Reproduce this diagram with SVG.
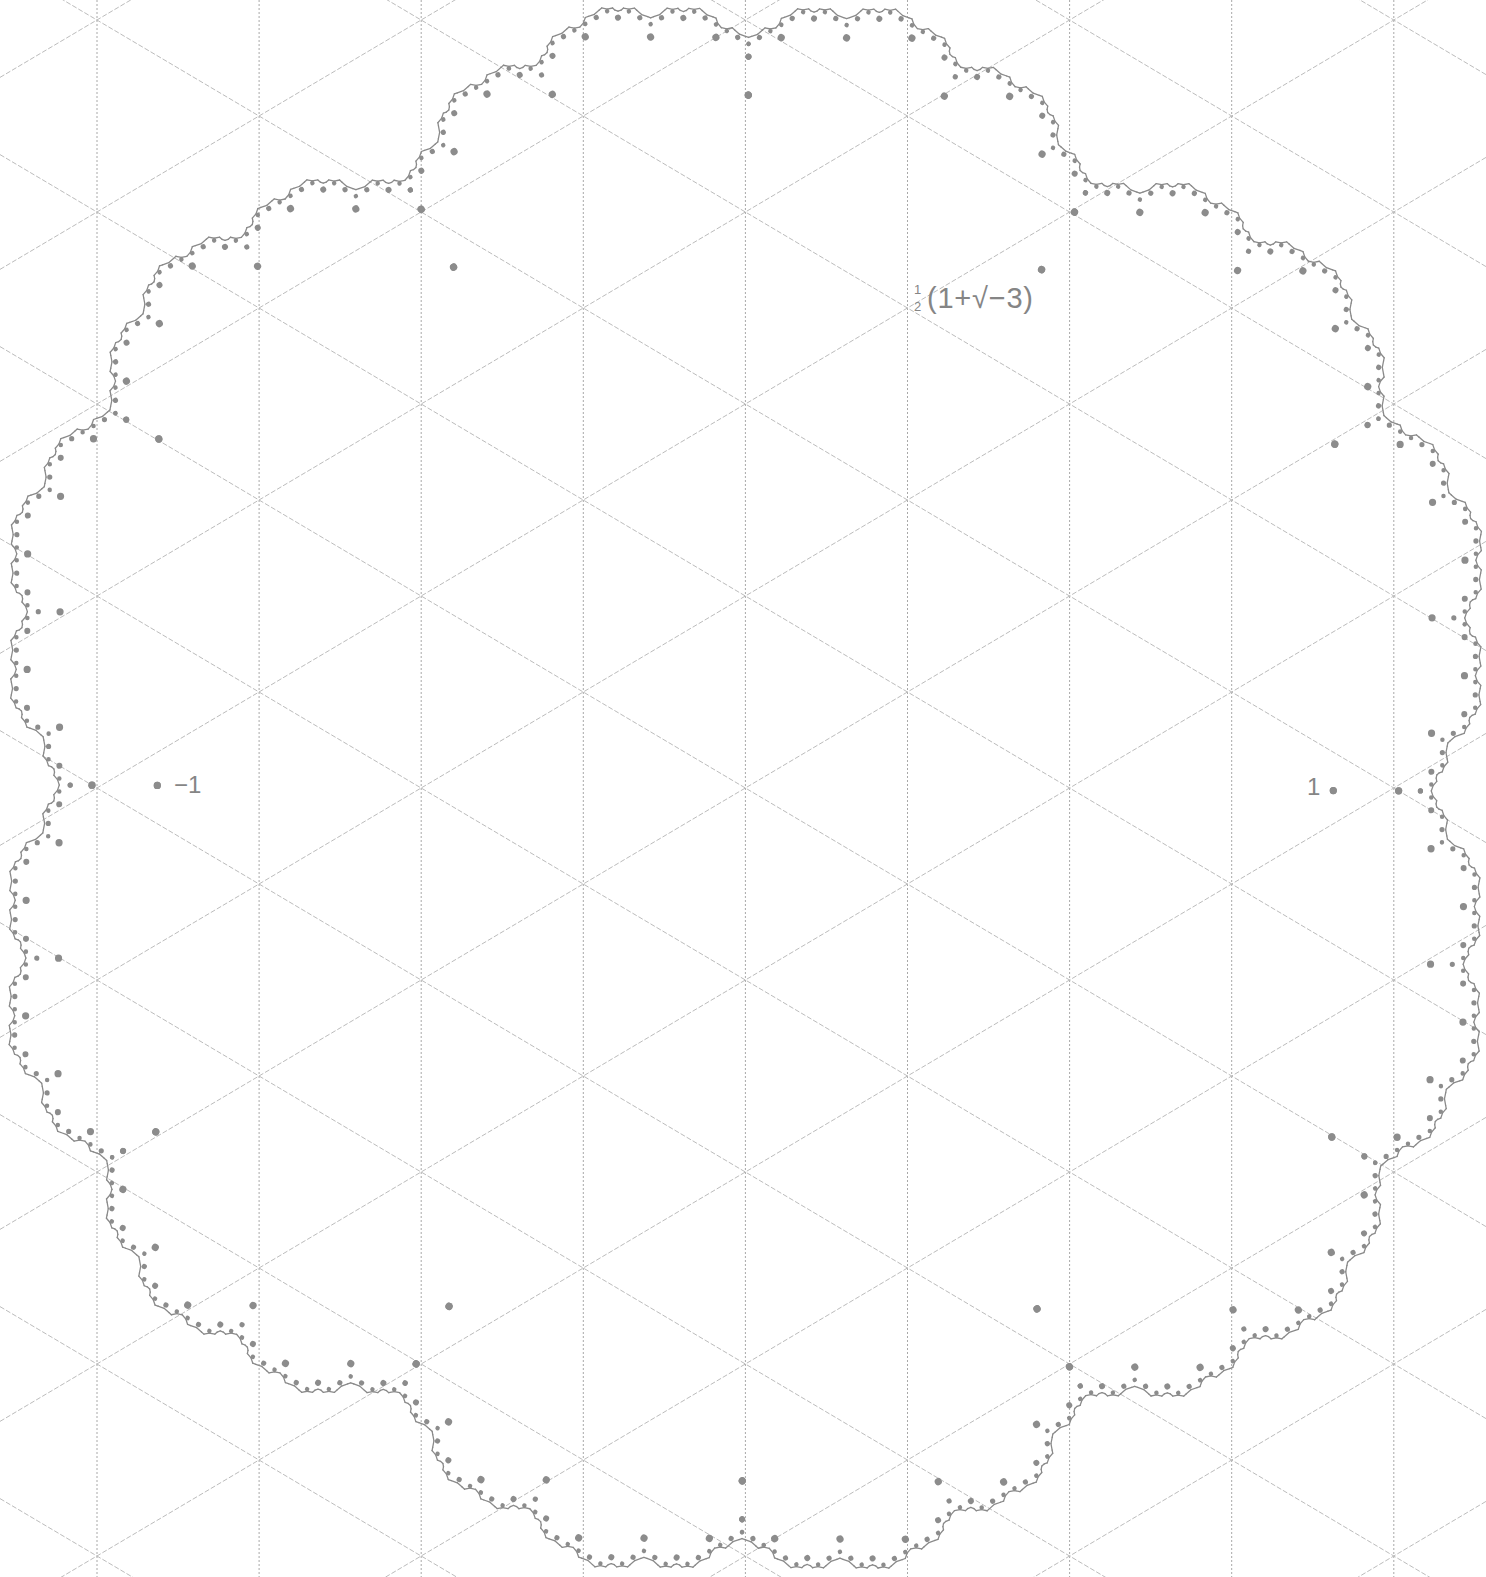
<svg xmlns="http://www.w3.org/2000/svg" width="1486" height="1577" viewBox="0 0 1486 1577">
<style>
.gv{stroke:#a8a8a8;stroke-width:1;stroke-dasharray:2 2;fill:none}
.gd{stroke:#bcbcbc;stroke-width:1;stroke-dasharray:5 2;fill:none}
.lbl{font-family:"Liberation Sans",Arial,sans-serif;fill:#858585}
</style>
<rect width="1486" height="1577" fill="#ffffff"/>
<g id="grid">
<line class="gv" x1="97" y1="0" x2="97" y2="1577"/>
<line class="gv" x1="259.1" y1="0" x2="259.1" y2="1577"/>
<line class="gv" x1="421.2" y1="0" x2="421.2" y2="1577"/>
<line class="gv" x1="583.3" y1="0" x2="583.3" y2="1577"/>
<line class="gv" x1="745.4" y1="0" x2="745.4" y2="1577"/>
<line class="gv" x1="907.5" y1="0" x2="907.5" y2="1577"/>
<line class="gv" x1="1069.6" y1="0" x2="1069.6" y2="1577"/>
<line class="gv" x1="1231.7" y1="0" x2="1231.7" y2="1577"/>
<line class="gv" x1="1393.8" y1="0" x2="1393.8" y2="1577"/>
<line class="gd" x1="0" y1="-805.4" x2="1486" y2="74.6"/>
<line class="gd" x1="0" y1="-613.4" x2="1486" y2="266.6"/>
<line class="gd" x1="0" y1="-421.4" x2="1486" y2="458.6"/>
<line class="gd" x1="0" y1="-229.4" x2="1486" y2="650.6"/>
<line class="gd" x1="0" y1="-37.4" x2="1486" y2="842.6"/>
<line class="gd" x1="0" y1="154.6" x2="1486" y2="1034.6"/>
<line class="gd" x1="0" y1="346.6" x2="1486" y2="1226.6"/>
<line class="gd" x1="0" y1="538.6" x2="1486" y2="1418.6"/>
<line class="gd" x1="0" y1="730.6" x2="1486" y2="1610.6"/>
<line class="gd" x1="0" y1="922.6" x2="1486" y2="1802.6"/>
<line class="gd" x1="0" y1="1114.6" x2="1486" y2="1994.6"/>
<line class="gd" x1="0" y1="1306.6" x2="1486" y2="2186.6"/>
<line class="gd" x1="0" y1="1498.6" x2="1486" y2="2378.6"/>
<line class="gd" x1="0" y1="77.4" x2="1486" y2="-802.6"/>
<line class="gd" x1="0" y1="269.4" x2="1486" y2="-610.6"/>
<line class="gd" x1="0" y1="461.4" x2="1486" y2="-418.6"/>
<line class="gd" x1="0" y1="653.4" x2="1486" y2="-226.6"/>
<line class="gd" x1="0" y1="845.4" x2="1486" y2="-34.6"/>
<line class="gd" x1="0" y1="1037.4" x2="1486" y2="157.4"/>
<line class="gd" x1="0" y1="1229.4" x2="1486" y2="349.4"/>
<line class="gd" x1="0" y1="1421.4" x2="1486" y2="541.4"/>
<line class="gd" x1="0" y1="1613.4" x2="1486" y2="733.4"/>
<line class="gd" x1="0" y1="1805.4" x2="1486" y2="925.4"/>
<line class="gd" x1="0" y1="1997.4" x2="1486" y2="1117.4"/>
<line class="gd" x1="0" y1="2189.4" x2="1486" y2="1309.4"/>
<line class="gd" x1="0" y1="2381.4" x2="1486" y2="1501.4"/>
</g>
<defs>
<path id="u0" d="M1.166667 0L1.25 0.433013"/>
<path id="v0" d="M1.25 0.433013L1.083333 0.625463"/>
<path id="x0" d="M1.25 0.144338L1.083333 0.625463"/>
<g id="u1"><use href="#x0" transform="matrix(0.5 -0.288675 0.288675 0.5 0.5 0.288675)"/><use href="#v0" transform="matrix(0.5 0.288675 0.288675 -0.5 0.5 0.288675)"/></g>
<g id="v1"><use href="#u0" transform="matrix(0.5 0.288675 0.288675 -0.5 0.5 0.288675)"/></g>
<g id="x1"><use href="#v0" transform="matrix(0.5 -0.288675 0.288675 0.5 0.5 0.288675)"/><use href="#v0" transform="matrix(0.5 0.288675 0.288675 -0.5 0.5 0.288675)"/><use href="#u0" transform="matrix(0.5 0.288675 0.288675 -0.5 0.5 0.288675)"/></g>
<g id="u2"><use href="#x1" transform="matrix(0.5 -0.288675 0.288675 0.5 0.5 0.288675)"/><use href="#v1" transform="matrix(0.5 0.288675 0.288675 -0.5 0.5 0.288675)"/></g>
<g id="v2"><use href="#u1" transform="matrix(0.5 0.288675 0.288675 -0.5 0.5 0.288675)"/></g>
<g id="x2"><use href="#v1" transform="matrix(0.5 -0.288675 0.288675 0.5 0.5 0.288675)"/><use href="#v1" transform="matrix(0.5 0.288675 0.288675 -0.5 0.5 0.288675)"/><use href="#u1" transform="matrix(0.5 0.288675 0.288675 -0.5 0.5 0.288675)"/></g>
<g id="u3"><use href="#x2" transform="matrix(0.5 -0.288675 0.288675 0.5 0.5 0.288675)"/><use href="#v2" transform="matrix(0.5 0.288675 0.288675 -0.5 0.5 0.288675)"/></g>
<g id="v3"><use href="#u2" transform="matrix(0.5 0.288675 0.288675 -0.5 0.5 0.288675)"/></g>
<g id="x3"><use href="#v2" transform="matrix(0.5 -0.288675 0.288675 0.5 0.5 0.288675)"/><use href="#v2" transform="matrix(0.5 0.288675 0.288675 -0.5 0.5 0.288675)"/><use href="#u2" transform="matrix(0.5 0.288675 0.288675 -0.5 0.5 0.288675)"/></g>
<g id="u4"><use href="#x3" transform="matrix(0.5 -0.288675 0.288675 0.5 0.5 0.288675)"/><use href="#v3" transform="matrix(0.5 0.288675 0.288675 -0.5 0.5 0.288675)"/></g>
<g id="v4"><use href="#u3" transform="matrix(0.5 0.288675 0.288675 -0.5 0.5 0.288675)"/></g>
<g id="x4"><use href="#v3" transform="matrix(0.5 -0.288675 0.288675 0.5 0.5 0.288675)"/><use href="#v3" transform="matrix(0.5 0.288675 0.288675 -0.5 0.5 0.288675)"/><use href="#u3" transform="matrix(0.5 0.288675 0.288675 -0.5 0.5 0.288675)"/></g>
<g id="u5"><use href="#x4" transform="matrix(0.5 -0.288675 0.288675 0.5 0.5 0.288675)"/><use href="#v4" transform="matrix(0.5 0.288675 0.288675 -0.5 0.5 0.288675)"/></g>
<g id="v5"><use href="#u4" transform="matrix(0.5 0.288675 0.288675 -0.5 0.5 0.288675)"/></g>
<g id="x5"><use href="#v4" transform="matrix(0.5 -0.288675 0.288675 0.5 0.5 0.288675)"/><use href="#v4" transform="matrix(0.5 0.288675 0.288675 -0.5 0.5 0.288675)"/><use href="#u4" transform="matrix(0.5 0.288675 0.288675 -0.5 0.5 0.288675)"/></g>
<g id="u6"><use href="#x5" transform="matrix(0.5 -0.288675 0.288675 0.5 0.5 0.288675)"/><use href="#v5" transform="matrix(0.5 0.288675 0.288675 -0.5 0.5 0.288675)"/></g>
<g id="v6"><use href="#u5" transform="matrix(0.5 0.288675 0.288675 -0.5 0.5 0.288675)"/></g>
<g id="x6"><use href="#v5" transform="matrix(0.5 -0.288675 0.288675 0.5 0.5 0.288675)"/><use href="#v5" transform="matrix(0.5 0.288675 0.288675 -0.5 0.5 0.288675)"/><use href="#u5" transform="matrix(0.5 0.288675 0.288675 -0.5 0.5 0.288675)"/></g>
<g id="u7"><use href="#x6" transform="matrix(0.5 -0.288675 0.288675 0.5 0.5 0.288675)"/><use href="#v6" transform="matrix(0.5 0.288675 0.288675 -0.5 0.5 0.288675)"/></g>
<g id="v7"><use href="#u6" transform="matrix(0.5 0.288675 0.288675 -0.5 0.5 0.288675)"/></g>
<g id="w"><use href="#u7"/><use href="#v7"/></g>
<g id="w2"><use href="#w"/><use href="#w" transform="scale(1 -1)"/></g>
<g id="dw">
<circle cx="1" cy="0" r="0.0061"/>
<circle cx="1" cy="0.57735" r="0.0061"/>
<circle cx="1.16667" cy="0.28868" r="0.0061"/>
<circle cx="1.16667" cy="0.09623" r="0.0061"/>
<circle cx="1.16667" cy="0.48113" r="0.0061"/>
<circle cx="1.11111" cy="0" r="0.0061"/>
<circle cx="1.22222" cy="0.19245" r="0.0061"/>
<circle cx="1.11111" cy="0.57735" r="0.0061"/>
<circle cx="1.22222" cy="0.3849" r="0.0061"/>
<circle cx="1.16667" cy="0.03208" r="0.0051"/>
<circle cx="1.22222" cy="0.2566" r="0.0051"/>
<circle cx="1.22222" cy="0.1283" r="0.0051"/>
<circle cx="1.05556" cy="0.60943" r="0.0051"/>
<circle cx="1.16667" cy="0.54528" r="0.0051"/>
<circle cx="1.22222" cy="0.32075" r="0.0051"/>
<circle cx="1.22222" cy="0.44905" r="0.0051"/>
<circle cx="1.09259" cy="0.60943" r="0.0044"/>
<circle cx="1.18519" cy="0.06415" r="0.0044"/>
<circle cx="1.18519" cy="0.5132" r="0.0044"/>
<circle cx="1.14815" cy="0" r="0.0044"/>
<circle cx="1.14815" cy="0.57735" r="0.0044"/>
<circle cx="1.2037" cy="0.28868" r="0.0044"/>
<circle cx="1.24074" cy="0.22452" r="0.0044"/>
<circle cx="1.24074" cy="0.35283" r="0.0044"/>
<circle cx="1.2037" cy="0.09623" r="0.0044"/>
<circle cx="1.2037" cy="0.48113" r="0.0044"/>
<circle cx="1.24074" cy="0.16038" r="0.0044"/>
<circle cx="1.24074" cy="0.41698" r="0.0044"/>
<circle cx="1.22222" cy="0.27798" r="0.0038"/>
<circle cx="1.22222" cy="0.29937" r="0.0038"/>
<circle cx="1.11111" cy="0.59874" r="0.0038"/>
<circle cx="1.24074" cy="0.20314" r="0.0038"/>
<circle cx="1.24074" cy="0.37421" r="0.0038"/>
<circle cx="1.07407" cy="0.62012" r="0.0038"/>
<circle cx="1.24074" cy="0.24591" r="0.0038"/>
<circle cx="1.24074" cy="0.33144" r="0.0038"/>
<circle cx="1.18519" cy="0.08553" r="0.0038"/>
<circle cx="1.18519" cy="0.49182" r="0.0038"/>
<circle cx="1.18519" cy="0.04277" r="0.0038"/>
<circle cx="1.18519" cy="0.53458" r="0.0038"/>
<circle cx="1.22222" cy="0.10692" r="0.0038"/>
<circle cx="1.22222" cy="0.47043" r="0.0038"/>
<circle cx="1.12963" cy="0.58804" r="0.0038"/>
<circle cx="1.24074" cy="0.18176" r="0.0038"/>
<circle cx="1.24074" cy="0.39559" r="0.0038"/>
<circle cx="1.16667" cy="0.01069" r="0.0038"/>
<circle cx="1.16667" cy="0.56666" r="0.0038"/>
<circle cx="1.24074" cy="0.13899" r="0.0038"/>
<circle cx="1.24074" cy="0.43836" r="0.0038"/>
</g>
<g id="d2"><use href="#dw"/><use href="#dw" transform="scale(1 -1)"/></g>
</defs>
<g id="fractal" transform="translate(745.3 788) rotate(0.25) scale(588 -600)">
<g id="boundary" fill="none" stroke="#8a8a8a" stroke-width="0.102" stroke-linecap="round" stroke-linejoin="round">
<use href="#w2"/>
<use href="#w2" transform="rotate(60)"/>
<use href="#w2" transform="rotate(120)"/>
<use href="#w2" transform="rotate(180)"/>
<use href="#w2" transform="rotate(240)"/>
<use href="#w2" transform="rotate(300)"/>
</g>
<g id="dots" fill="#8c8c8c" stroke="none">
<use href="#d2"/>
<use href="#d2" transform="rotate(60)"/>
<use href="#d2" transform="rotate(120)"/>
<use href="#d2" transform="rotate(180)"/>
<use href="#d2" transform="rotate(240)"/>
<use href="#d2" transform="rotate(300)"/>
</g>
</g>
<g id="labels">
<text class="lbl" x="174" y="793" font-size="24">−1</text>
<text class="lbl" x="1307" y="795" font-size="24">1</text>
<text class="lbl" x="917.5" y="294" font-size="13" text-anchor="middle">1</text>
<text class="lbl" x="917.5" y="311" font-size="13" text-anchor="middle">2</text>
<text class="lbl" x="927" y="308" font-size="29" textLength="106" lengthAdjust="spacing">(1+√−3)</text>
</g>
</svg>
